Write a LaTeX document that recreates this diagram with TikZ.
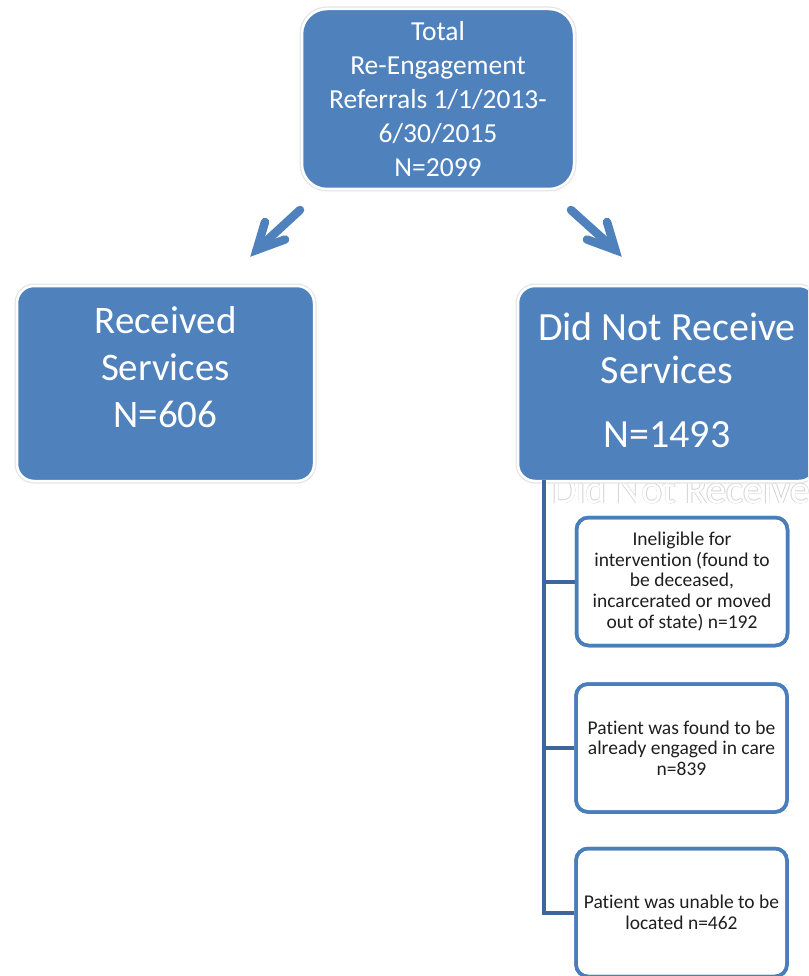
\documentclass[tikz,border=0pt]{standalone}
\usepackage{fontspec}
\setmainfont{Carlito}[Ligatures=NoCommon]
\usetikzlibrary{calc}

\definecolor{boxblue}{RGB}{79,129,189}
\definecolor{edgeblue}{RGB}{74,126,187}
\definecolor{trunkblue}{RGB}{62,102,153}
\definecolor{ghostgray}{RGB}{212,212,212}

% white letters with a thin grey outline
\newcommand\ghosttext[1]{%
  \leavevmode
  \rlap{\kern-0.7pt\textcolor{ghostgray}{#1}}%
  \rlap{\kern0.7pt\textcolor{ghostgray}{#1}}%
  \rlap{\raisebox{0.7pt}{\textcolor{ghostgray}{#1}}}%
  \rlap{\raisebox{-0.7pt}{\textcolor{ghostgray}{#1}}}%
  \textcolor{white}{#1}}

\begin{document}
\begin{tikzpicture}[x=1pt,y=-1pt,
  mainbox/.style={rounded corners=#1, fill=boxblue, draw=white, line width=2.5pt,
    preaction={draw=black!10, line width=5pt}, inner sep=0pt},
  boxtext/.style={text=white, align=center, inner sep=0pt},
  smallbox/.style={rounded corners=12pt, draw=edgeblue, line width=3.5pt, fill=white,
    minimum width=211pt, minimum height=128pt, align=center, inner sep=0pt,
    text=black!88, font=\fontsize{19.5}{20.7}\selectfont},
  fatarrow/.style={draw=boxblue, line width=8.5pt, line cap=round, line join=miter, miter limit=5},
  trunk/.style={draw=trunkblue, line width=4pt}]

\path[use as bounding box, fill=white] (0,0) rectangle (808,976);
\clip (0,0) rectangle (808,976);

% outlined caption sitting under the right-hand box
\node[anchor=base west, inner sep=0pt, font=\fontsize{40}{48}\selectfont] (ghost) at (552,503)
  {\ghosttext{Did Not Receive}};

% top box
\node[mainbox=25pt, minimum width=272pt, minimum height=180pt] (top) at (438,99) {};
\node[boxtext, font=\fontsize{27.5}{34}\selectfont] (toplabel) at (438,99.5)
  {Total\\Re-Engagement\\Referrals 1/1/2013-\\6/30/2015\\N=2099};

% two outcome boxes
\node[mainbox=17pt, minimum width=297pt, minimum height=195pt] (recv) at (165.5,383.5) {};
\node[boxtext, font=\fontsize{39}{47}\selectfont] (recvlabel) at (165.5,367)
  {Received\\Services\\N=606};

\node[mainbox=17pt, minimum width=298pt, minimum height=195pt] (notrecv) at (667,383.5) {};
\node[boxtext, font=\fontsize{40}{43}\selectfont] (notrecvlabel) at (667,380)
  {Did Not Receive\\Services\\[21pt]N=1493};

% block arrows from the top box
\coordinate (aL-tail) at (300,210);
\coordinate (aL-tip)  at (256.7,249.9);
\coordinate (aL-w1)   at (265,222);
\coordinate (aL-w2)   at (285,239.5);
\draw[fatarrow] (aL-tail) -- (aL-tip);
\draw[fatarrow] (aL-w1) -- (aL-tip) -- (aL-w2);

\coordinate (aR-tail) at (571,210);
\coordinate (aR-tip)  at (615.3,249.9);
\coordinate (aR-w1)   at (607,222);
\coordinate (aR-w2)   at (587,239.5);
\draw[fatarrow] (aR-tail) -- (aR-tip);
\draw[fatarrow] (aR-w1) -- (aR-tip) -- (aR-w2);

% breakdown boxes
\node[smallbox] (b1) at (682,581.5)
  {Ineligible for\\intervention (found to\\be deceased,\\incarcerated or moved\\out of state) n=192};
\node[smallbox] (b2) at (681.5,748)
  {Patient was found to be\\already engaged in care\\n=839};
\node[smallbox] (b3) at (681.5,912.5)
  {Patient was unable to be\\located n=462};

% bracket joining the breakdown boxes
\coordinate (trunktop) at ($(notrecv.south west)+(27,-2)$);
\draw[trunk] (trunktop) |- (b3.west);
\draw[trunk] (trunktop |- b1.west) -- (b1.west);
\draw[trunk] (trunktop |- b2.west) -- (b2.west);

% redraw the box borders over the branch ends
\foreach \b in {b1,b2,b3}{
  \draw[draw=edgeblue, line width=3.5pt, rounded corners=12pt]
    ($(\b.south west)+(1.75,-1.75)$) rectangle ($(\b.north east)+(-1.75,1.75)$);
}
\end{tikzpicture}
\end{document}
